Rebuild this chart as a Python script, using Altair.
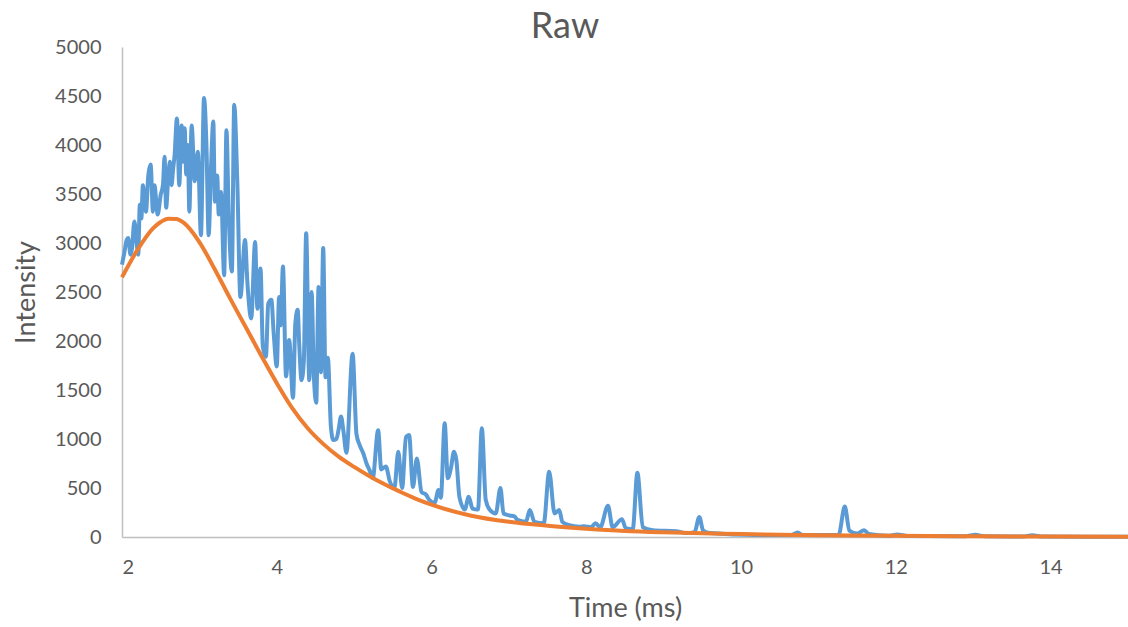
import altair as alt
import pandas as pd

# Raw signal (blue)
raw_time = [2.00, 2.03, 2.06, 2.08, 2.11, 2.13, 2.16, 2.19, 2.21, 2.23, 2.25, 2.27, 2.29, 2.31,
            2.34, 2.37, 2.40, 2.42, 2.44, 2.46, 2.50, 2.53, 2.55, 2.57, 2.60, 2.62, 2.64, 2.66,
            2.68, 2.71, 2.74, 2.77, 2.79, 2.81, 2.83, 2.85, 2.87, 2.90, 2.94, 2.98, 3.02, 3.06,
            3.09, 3.12, 3.15, 3.18, 3.20, 3.23, 3.25, 3.28, 3.32, 3.35, 3.38, 3.42, 3.45, 3.49,
            3.53, 3.59, 3.62, 3.67, 3.72, 3.75, 3.79, 3.82, 3.86, 3.89, 3.93, 3.96, 4.00, 4.03,
            4.05, 4.08, 4.12, 4.16, 4.21, 4.24, 4.27, 4.29, 4.32, 4.35, 4.38, 4.42, 4.45, 4.48,
            4.51, 4.54, 4.57, 4.60, 4.63, 4.66, 4.70, 4.73, 4.77, 4.80, 4.83, 4.86, 4.90, 4.98,
            5.03, 5.07, 5.12, 5.16, 5.20, 5.24, 5.31, 5.35, 5.41, 5.46, 5.52, 5.57, 5.62, 5.67,
            5.71, 5.76, 5.81, 5.87, 5.93, 5.97, 6.04, 6.09, 6.12, 6.17, 6.21, 6.25, 6.29, 6.32,
            6.36, 6.43, 6.48, 6.53, 6.60, 6.65, 6.70, 6.75, 6.83, 6.89, 6.93, 7.01, 7.07, 7.11,
            7.22, 7.27, 7.33, 7.45, 7.52, 7.59, 7.65, 7.69, 7.78, 7.91, 7.97, 8.06, 8.12, 8.18,
            8.28, 8.34, 8.46, 8.51, 8.60, 8.66, 8.73, 8.86, 9.16, 9.29, 9.40, 9.46, 9.51, 9.60,
            10.20, 10.65, 10.73, 10.80, 11.26, 11.34, 11.40, 11.50, 11.59, 11.65, 11.90, 12.02,
            12.15, 12.90, 13.03, 13.15, 13.65, 13.76, 13.90, 15.00]
raw_intensity = [2780, 2900, 3030, 3050, 2880, 2950, 3220, 3000, 2880, 3390, 3250, 3590, 3450, 3320,
                 3690, 3800, 3320, 3590, 3450, 3290, 3490, 3600, 3880, 3360, 3700, 3830, 3590, 3750,
                 3900, 4270, 3590, 4200, 3830, 4170, 3700, 4000, 3320, 4200, 3630, 3930, 3080, 4480,
                 4030, 3080, 3770, 4240, 3420, 3690, 3290, 3520, 2670, 4150, 3260, 2710, 4410, 3630,
                 2450, 3030, 2600, 2230, 3010, 2330, 2740, 1940, 1840, 2380, 2420, 2080, 1740, 2450,
                 2160, 2760, 1640, 2010, 1420, 2180, 2320, 1970, 1600, 1800, 3100, 1600, 2500, 1630,
                 1370, 2550, 1680, 2950, 1630, 1830, 1120, 990, 1000, 1100, 1230, 1090, 860, 1870,
                 1050, 940, 850, 750, 680, 600, 1090, 690, 720, 570, 500, 870, 500, 1020,
                 1040, 510, 800, 460, 430, 380, 350, 480, 400, 1160, 600, 700, 870, 790,
                 410, 280, 410, 290, 280, 1110, 380, 280, 240, 500, 240, 220, 210, 175,
                 155, 275, 155, 140, 665, 240, 275, 155, 120, 105, 110, 100, 140, 100,
                 320, 100, 180, 90, 80, 655, 100, 70, 60, 40, 50, 205, 65, 40,
                 20, 20, 45, 20, 20, 310, 65, 35, 70, 30, 12, 25,
                 10, 8, 22, 7, 5, 18, 4, 2]

# Fitted curve (orange)
fit_time = [2.0, 2.2, 2.4, 2.5, 2.6, 2.7, 2.8, 3.0, 3.2, 3.4, 3.6, 3.8, 4.0, 4.2, 4.4, 4.6,
            4.8, 5.0, 5.2, 5.4, 5.6, 5.8, 6.0, 6.5, 7.0, 7.5, 8.0, 8.5, 9.0, 9.5, 10.0, 11.0,
            12.0, 13.0, 14.0, 15.0]
fit_intensity = [2650, 2930, 3150, 3215, 3248, 3245, 3205, 3010, 2730, 2430, 2140, 1850, 1570,
                 1315, 1110, 950, 820, 715, 620, 535, 460, 390, 330, 220, 155, 115, 85, 62, 48,
                 38, 30, 18, 12, 8, 5, 3]

x_ticks = [2, 4, 6, 8, 10, 12, 14]
y_ticks = list(range(0, 5001, 500))

raw_df = pd.DataFrame({"t": raw_time, "v": raw_intensity})
fit_df = pd.DataFrame({"t": fit_time, "v": fit_intensity})

FONT = "Lato"
TEXT = "#595959"

x_enc = alt.X("t:Q", scale=alt.Scale(domain=[2, 15], nice=False, zero=False),
              axis=alt.Axis(title="Time (ms)", values=x_ticks, grid=False, ticks=False,
                            domainColor="#BFBFBF", domainWidth=1.5, labelPadding=20,
                            labelFontSize=20, titleFontSize=27, titlePadding=18,
                            labelColor=TEXT, titleColor=TEXT, labelFont=FONT,
                            titleFont=FONT, titleFontWeight="normal"))
y_enc = alt.Y("v:Q", scale=alt.Scale(domain=[0, 5000], nice=False),
              axis=alt.Axis(title="Intensity", values=y_ticks, grid=False, ticks=False,
                            format="d",
                            domainColor="#BFBFBF", domainWidth=1.5, labelPadding=21,
                            labelFontSize=20, titleFontSize=27, titlePadding=14,
                            labelColor=TEXT, titleColor=TEXT, labelFont=FONT,
                            titleFont=FONT, titleFontWeight="normal"))

raw_line = alt.Chart(raw_df).mark_line(color="#5B9BD5", strokeWidth=4,
                                       interpolate="monotone").encode(x=x_enc, y=y_enc)
fit_line = alt.Chart(fit_df).mark_line(color="#ED7D31", strokeWidth=4,
                                       interpolate="monotone").encode(x=x_enc, y=y_enc)

chart = alt.layer(raw_line, fit_line).properties(
    width=1006,
    height=490,
    title=alt.TitleParams("Raw", fontSize=36, font=FONT, fontWeight="normal", color=TEXT,
                          anchor="middle", dx=-60, dy=17, offset=8),
    autosize=alt.AutoSizeParams(type="none"),
    padding={"left": 122, "top": 47, "right": 0, "bottom": 90},
).configure(background="white").configure_view(stroke=None)

chart.save("out.html", embed_options={"renderer": "svg", "actions": False})
